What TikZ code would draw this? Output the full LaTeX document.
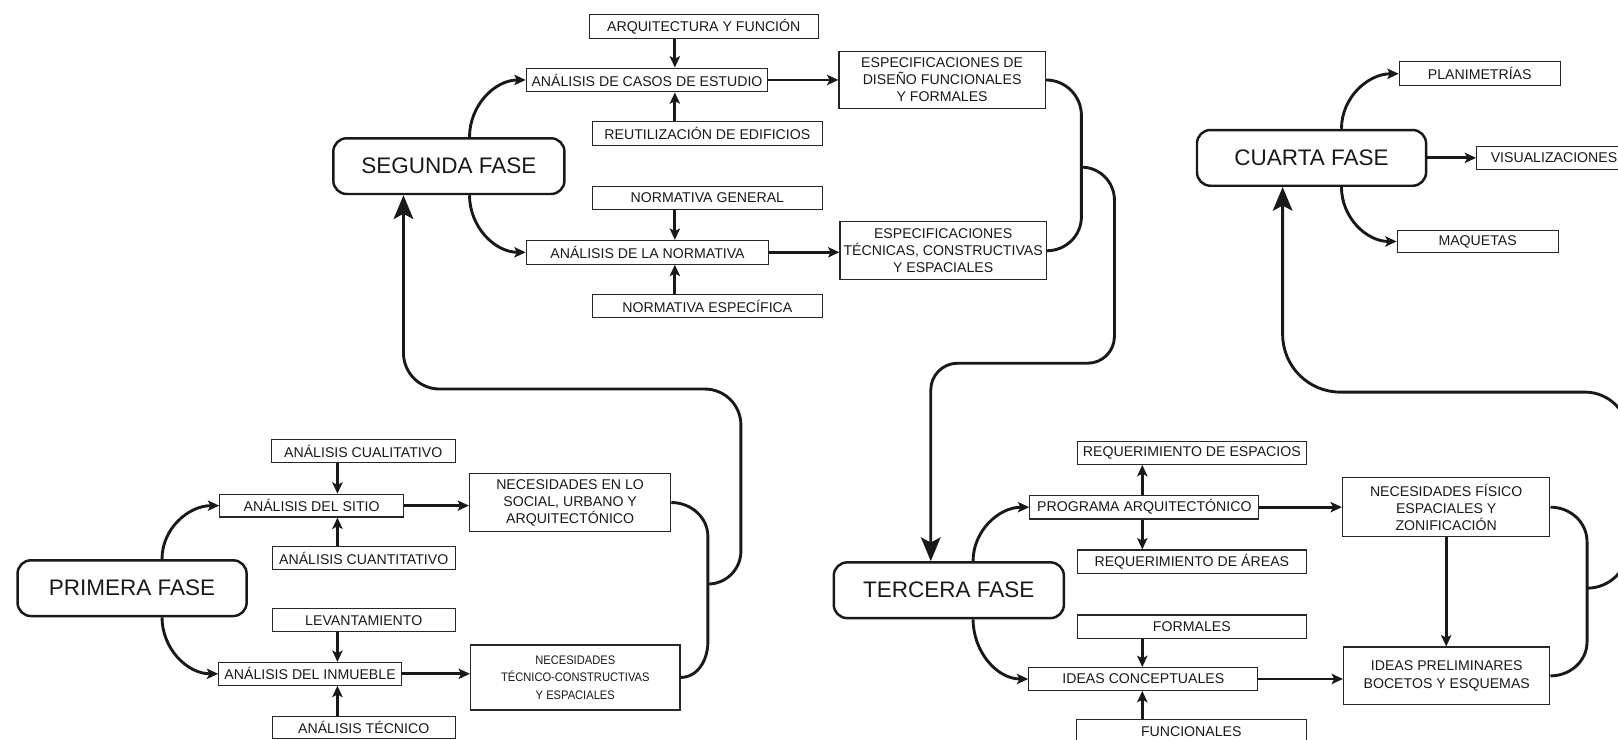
\documentclass[tikz,border=0pt]{standalone}
\usepackage{fontspec}
\setmainfont{Liberation Sans}
\newfontfamily\condfont[FakeStretch=0.9]{Liberation Sans}
\usetikzlibrary{arrows.meta}
\begin{document}
\begin{tikzpicture}[x=1pt,y=1pt,
  box/.style={draw=black!85, line width=1.1pt, inner sep=0pt, align=center, text=black!90,
    font=\fontsize{13.7}{16.5}\selectfont},
  phase/.style={draw=black!90, line width=2.4pt, rounded corners=13pt, inner sep=0pt, text=black!90,
    font=\fontsize{21.8}{24}\selectfont},
  arr/.style={draw=black!90, line width=2.8pt, -{Stealth[length=11pt,width=10pt,inset=2.5pt]}},
  bigarr/.style={draw=black!90, line width=2.8pt, -{Stealth[length=23pt,width=19pt,inset=5pt]}},
  link/.style={draw=black!90, line width=2.8pt},
]
\useasboundingbox (0,0) rectangle (1568,-717);
\clip (0,0) rectangle (1568,-717);

% ---------------- SEGUNDA FASE ----------------
\node[box, minimum width=222, minimum height=23] (arq) at (682,-25.5) {ARQUITECTURA Y FUNCIÓN};
\node[box, minimum width=234, minimum height=23] (casos) at (627,-77.5) {ANÁLISIS DE CASOS DE ESTUDIO};
\node[box, minimum width=200, minimum height=55] (esp1) at (913,-77.5) {ESPECIFICACIONES DE\\DISEÑO FUNCIONALES\\Y FORMALES};
\node[box, minimum width=223, minimum height=23] (reut) at (685.5,-129.5) {REUTILIZACIÓN DE EDIFICIOS};
\node[phase, minimum width=224, minimum height=54] (seg) at (435,-161) {SEGUNDA FASE};
\node[box, minimum width=223, minimum height=22] (ng) at (685.5,-192) {NORMATIVA GENERAL};
\node[box, minimum width=235, minimum height=23] (norm) at (627.5,-244.5) {ANÁLISIS DE LA NORMATIVA};
\node[box, minimum width=200, minimum height=56] (esp2) at (914,-243) {ESPECIFICACIONES\\TÉCNICAS, CONSTRUCTIVAS\\Y ESPACIALES};
\node[box, minimum width=223, minimum height=23] (ne) at (685.5,-296.5) {NORMATIVA ESPECÍFICA};

\coordinate (s2x) at (654,0);
\coordinate (s2c) at (455,0);
\draw[arr] (arq.south -| s2x) -- (casos.north -| s2x);
\draw[arr] (reut.north -| s2x) -- (casos.south -| s2x);
\draw[arr] (ng.south -| s2x) -- (norm.north -| s2x);
\draw[arr] (ne.north -| s2x) -- (norm.south -| s2x);
\draw[arr] (casos.east) -- (casos.east -| esp1.west);
\draw[arr] (norm.east) -- (norm.east -| esp2.west);
\draw[arr] (seg.north -| s2c) to[out=90,in=180] (casos.west);
\draw[arr] (seg.south -| s2c) to[out=-90,in=180] (norm.west);

\coordinate (b2) at (1048,-162);
\coordinate (t3x) at (902,0);
\draw[link] (esp1.east) to[out=0,in=90] (1048,-112) -- (b2) -- (1048,-210) to[out=-90,in=0] (esp2.east);

% ---------------- PRIMERA FASE ----------------
\node[box, minimum width=178, minimum height=22] (cual) at (352,-437) {ANÁLISIS CUALITATIVO};
\node[box, minimum width=178, minimum height=22] (sitio) at (302,-490) {ANÁLISIS DEL SITIO};
\node[box, minimum width=195, minimum height=56] (nec1) at (552.5,-487) {NECESIDADES EN LO\\SOCIAL, URBANO Y\\ARQUITECTÓNICO};
\node[box, minimum width=177, minimum height=22] (cuant) at (352.5,-541) {ANÁLISIS CUANTITATIVO};
\node[phase, minimum width=222, minimum height=54] (pri) at (128,-570) {PRIMERA FASE};
\node[box, minimum width=177, minimum height=22] (lev) at (352.5,-601) {LEVANTAMIENTO};
\node[box, minimum width=177, minimum height=22] (inm) at (300.5,-653) {ANÁLISIS DEL INMUEBLE};
\node[box, minimum width=203, minimum height=63, font=\condfont\fontsize{12}{17}\selectfont] (nec2) at (557.5,-656.5) {NECESIDADES\\TÉCNICO-CONSTRUCTIVAS\\Y ESPACIALES};
\node[box, minimum width=177, minimum height=22] (tec) at (352.5,-705) {ANÁLISIS TÉCNICO};

\coordinate (p1x) at (327,0);
\coordinate (p1c) at (157,0);
\coordinate (s1u) at (391,0);
\draw[arr] (cual.south -| p1x) -- (sitio.north -| p1x);
\draw[arr] (cuant.north -| p1x) -- (sitio.south -| p1x);
\draw[arr] (lev.south -| p1x) -- (inm.north -| p1x);
\draw[arr] (tec.north -| p1x) -- (inm.south -| p1x);
\draw[arr] (sitio.east) -- (sitio.east -| nec1.west);
\draw[arr] (inm.east) -- (inm.east -| nec2.west);
\draw[arr] (pri.north -| p1c) to[out=90,in=180] (sitio.west);
\draw[arr] (pri.south -| p1c) to[out=-90,in=180] (inm.west);

\coordinate (b1) at (686,-566);
\draw[link] (nec1.east) to[out=0,in=90] (686,-520) -- (b1) -- (686,-622) to[out=-90,in=0] (nec2.east);
\draw[bigarr] (b1) to[out=0,in=-90] (718,-534) -- (718,-412) to[out=90,in=0] (683,-377) -- (426,-377) to[out=180,in=-90] (391,-342) -- (seg.south -| s1u);

% ---------------- TERCERA FASE ----------------
\node[box, minimum width=222, minimum height=22] (reqe) at (1155,-439) {REQUERIMIENTO DE ESPACIOS};
\node[box, minimum width=222, minimum height=23] (prog) at (1109,-491.5) {PROGRAMA ARQUITECTÓNICO};
\node[box, minimum width=201, minimum height=57] (nfis) at (1401.5,-491.5) {NECESIDADES FÍSICO\\ESPACIALES Y\\ZONIFICACIÓN};
\node[box, minimum width=222, minimum height=23] (reqa) at (1155,-544.5) {REQUERIMIENTO DE ÁREAS};
\node[phase, minimum width=223, minimum height=54] (ter) at (919.5,-572) {TERCERA FASE};
\node[box, minimum width=222, minimum height=23] (form) at (1155,-607.5) {FORMALES};
\node[box, minimum width=222, minimum height=22] (ic) at (1108,-658) {IDEAS CONCEPTUALES};
\node[box, minimum width=200, minimum height=56] (ip) at (1402,-655) {IDEAS PRELIMINARES\\BOCETOS Y ESQUEMAS};
\node[box, minimum width=223, minimum height=24] (fun) at (1154.5,-709) {FUNCIONALES};

\draw[bigarr] (b2) to[out=0,in=90] (1080,-194) -- (1080,-326) to[out=-90,in=0] (1054,-352) -- (928,-352) to[out=180,in=90] (902,-378) -- (ter.north -| t3x);

\coordinate (t3v) at (1107,0);
\coordinate (t3c) at (943,0);
\draw[arr] (prog.north -| t3v) -- (reqe.south -| t3v);
\draw[arr] (prog.south -| t3v) -- (reqa.north -| t3v);
\draw[arr] (form.south -| t3v) -- (ic.north -| t3v);
\draw[arr] (fun.north -| t3v) -- (ic.south -| t3v);
\draw[arr] (prog.east) -- (prog.east -| nfis.west);
\draw[arr] (ic.east) -- (ic.east -| ip.west);
\draw[arr] (nfis.south) -- (nfis.south |- ip.north);
\draw[arr] (ter.north -| t3c) to[out=90,in=180] (prog.west);
\draw[arr] (ter.south -| t3c) to[out=-90,in=180] (ic.west);

\coordinate (b3) at (1538,-570);
\draw[link] (nfis.east) to[out=0,in=90] (1538,-525) -- (b3) -- (1538,-622) to[out=-90,in=0] (ip.east);

% ---------------- CUARTA FASE ----------------
\node[phase, minimum width=222, minimum height=54] (cua) at (1271,-153) {CUARTA FASE};
\node[box, minimum width=156, minimum height=23] (plan) at (1434,-71.5) {PLANIMETRÍAS};
\node[box, minimum width=150, minimum height=22] (vis) at (1506,-153) {VISUALIZACIONES};
\node[box, minimum width=156, minimum height=22] (maq) at (1432,-234) {MAQUETAS};

\coordinate (c4c) at (1300,0);
\coordinate (c4u) at (1243,0);
\draw[arr] (cua.north -| c4c) to[out=90,in=180] (plan.west);
\draw[arr] (cua.south -| c4c) to[out=-90,in=180] (maq.west);
\draw[arr] (cua.east) -- (cua.east -| vis.west);

\draw[bigarr] (b3) to[out=0,in=-90] (1578,-530) -- (1578,-422) to[out=90,in=0] (1536,-380) -- (1299,-380) to[out=180,in=-90] (1243,-324) -- (cua.south -| c4u);
\end{tikzpicture}
\end{document}
